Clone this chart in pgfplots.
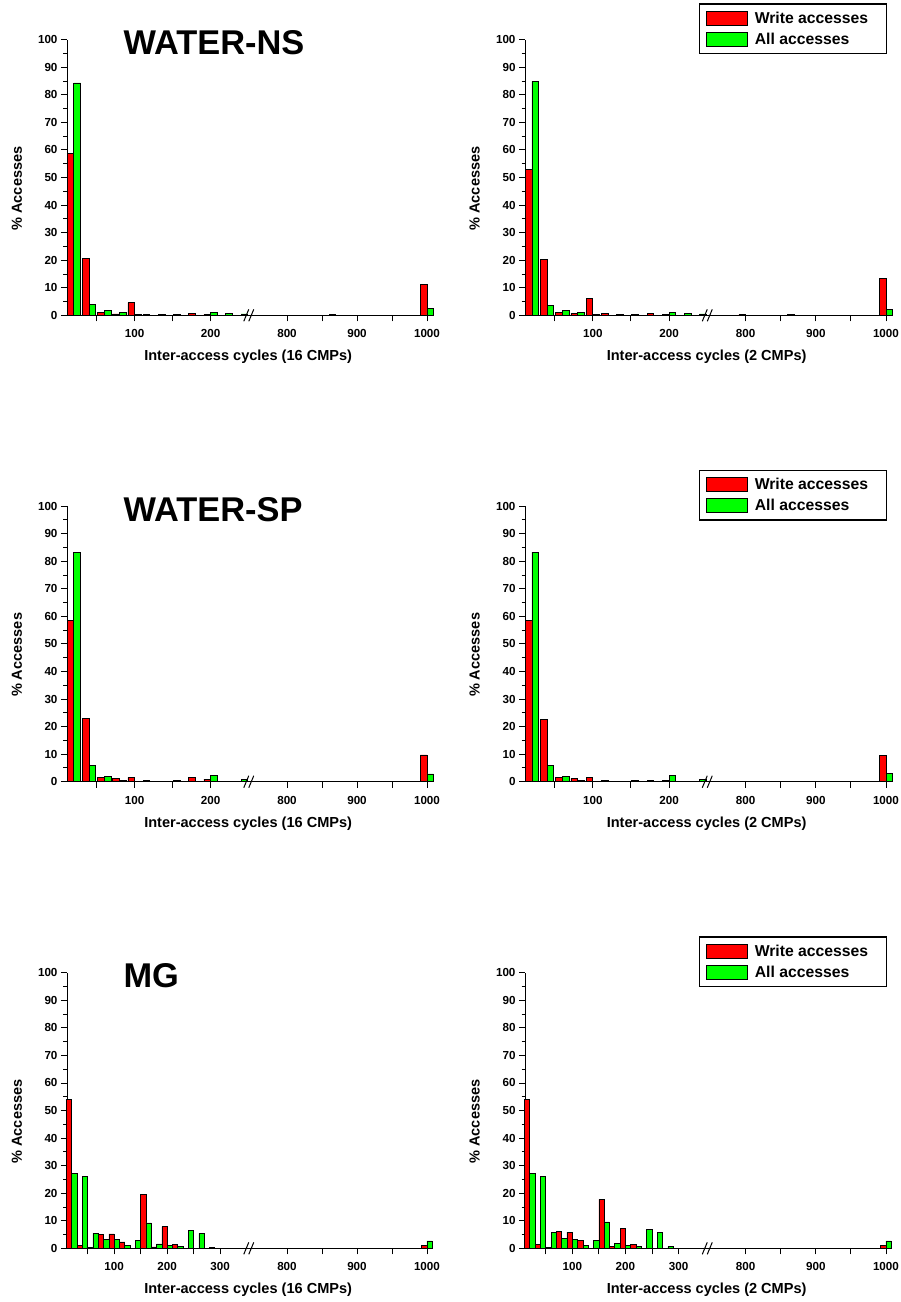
\documentclass[border=0pt]{standalone}
\usepackage{pgfplots}
\pgfplotsset{compat=1.18}
\usepackage{fontspec}
\setmainfont{Liberation Sans}
\definecolor{wred}{RGB}{255,0,0}
\definecolor{agreen}{RGB}{0,255,0}
\pgfplotsset{
  panel/.style={
    scale only axis, width=366bp, height=275.6bp,
    anchor=south west,
    axis x line=bottom, axis y line=left,
    axis line style={-, line width=1bp, black},
    ymin=0, ymax=100, ytick={0,10,...,100}, minor y tick num=1,
    tick align=outside, major tick length=6bp, minor tick length=3.5bp,
    tick style={line width=0.9bp, black},
    ybar=0pt, clip=false,
    tick label style={font=\fontsize{11.7}{13}\selectfont\bfseries},
    xticklabel style={yshift=-5bp},
    /pgf/number format/assume math mode=true,
    label style={font=\fontsize{14.6}{16}\selectfont\bfseries},
    ylabel={\% Accesses},
    ylabel style={at={(axis description cs:-0.137,0.46)}, anchor=center},
    xlabel style={at={(axis description cs:0.495,-0.152)}, anchor=center},
    legend style={at={(rel axis cs:0.986,1.132)}, anchor=north east,
      draw=black, line width=1.2bp, font=\fontsize{15.8}{17}\selectfont\bfseries,
      legend cell align=left, row sep=4bp, inner xsep=7bp, inner ysep=6bp},
  },
  trafoA/.style={
    x coord trafo/.code={\pgfmathparse{##1<500 ? ##1 : 250.5+(##1-745.7)*0.921}},
    xmin=11, xmax=1008.6, bar width=8.8,
    xtick={50,100,150,200,800,850,900,950,1000},
    xticklabels={,100,,200,800,,900,,1000},
  },
  trafoB/.style={
    x coord trafo/.code={\pgfmathparse{##1<500 ? ##1 : 354.4+(##1-745.7)*1.321}},
    xmin=11, xmax=1008.6, bar width=10,
    xtick={50,100,150,200,250,300,800,850,900,950,1000},
    xticklabels={,100,,200,,300,800,,900,,1000},
  },
  sqleg/.style={legend image code/.code={\draw[##1,draw=black,line width=0.8bp] (0bp,-7bp) rectangle (41bp,7bp); \path[draw=none,fill=none] (0bp,0bp) -- (46bp,0bp);}},
  rbar/.style={fill=wred, draw=black, line width=0.7bp, sqleg},
  gbar/.style={fill=agreen, draw=black, line width=0.7bp, sqleg},
}
\newcommand{\brk}{%
  \draw[line width=1bp] (rel axis cs:0.498,0) ++(-5.5bp,-6bp) -- ++(5bp,12bp);
  \draw[line width=1bp] (rel axis cs:0.498,0) ++(-0.5bp,-6bp) -- ++(5bp,12bp);}
\newcommand{\ttl}[1]{\node[anchor=base west, font=\fontsize{34.5}{36}\selectfont\bfseries] at (rel axis cs:0.145,0.945) {#1};}
\begin{document}
\begin{tikzpicture}
\useasboundingbox (0,0) rectangle (901bp,-1302bp);
% ---------- WATER-NS 16
\begin{axis}[panel, trafoA, at={(67bp,-315.3bp)}, xlabel={Inter-access cycles (16 CMPs)}]
\addplot[rbar] coordinates {(20,58.6) (40,20.6) (60,1.0) (80,0.5) (100,4.6) (120,0.3) (140,0.4) (160,0.3) (180,0.8) (200,0.3) (220,0.1) (240,0.1) (780,0.1) (800,0.1) (820,0.1) (840,0.1) (880,0.1) (900,0.1) (920,0.1) (940,0.1) (960,0.1) (980,0.1) (1000,11.3)};
\addplot[gbar] coordinates {(20,84.3) (40,4.0) (60,1.8) (80,1.0) (100,0.3) (120,0.1) (140,0.1) (160,0.1) (180,0.1) (200,1.0) (220,0.6) (240,0.5) (860,0.2) (1000,2.5)};
\brk
\ttl{WATER-NS}
\end{axis}
% ---------- WATER-NS 2
\begin{axis}[panel, trafoA, at={(525bp,-315.3bp)}, width=367bp, xlabel={Inter-access cycles (2 CMPs)}]
\addplot[rbar] coordinates {(20,52.9) (40,20.3) (60,1.1) (80,0.6) (100,6.2) (120,0.7) (140,0.4) (160,0.4) (180,0.7) (200,0.3) (220,0.1) (240,0.1) (800,0.3) (1000,13.4)};
\addplot[gbar] coordinates {(20,84.9) (40,3.6) (60,1.8) (80,1.1) (100,0.3) (120,0.1) (140,0.1) (160,0.1) (180,0.1) (200,1.0) (220,0.6) (240,0.5) (860,0.3) (1000,2.2)};
\legend{Write accesses\rule{9bp}{0pt}, All accesses}
\brk
\end{axis}
% ---------- WATER-SP 16
\begin{axis}[panel, trafoA, at={(67bp,-781.7bp)}, xlabel={Inter-access cycles (16 CMPs)}]
\addplot[rbar] coordinates {(20,58.6) (40,22.9) (60,1.6) (80,1.1) (100,1.6) (120,0.4) (140,0.1) (160,0.6) (180,1.6) (200,0.9) (220,0.2) (240,0.1) (1000,9.7)};
\addplot[gbar] coordinates {(20,83.3) (40,5.8) (60,1.9) (80,0.5) (100,0.2) (120,0.1) (140,0.2) (160,0.1) (180,0.1) (200,2.3) (220,0.1) (240,0.9) (1000,2.8)};
\brk
\ttl{WATER-SP}
\end{axis}
% ---------- WATER-SP 2
\begin{axis}[panel, trafoA, at={(525bp,-781.7bp)}, width=367bp, xlabel={Inter-access cycles (2 CMPs)}]
\addplot[rbar] coordinates {(20,58.4) (40,22.6) (60,1.6) (80,1.2) (100,1.6) (120,0.5) (140,0.1) (160,0.4) (180,0.6) (200,0.4) (220,0.1) (240,0.1) (1000,9.6)};
\addplot[gbar] coordinates {(20,83.3) (40,5.8) (60,1.9) (80,0.5) (100,0.2) (120,0.1) (140,0.1) (160,0.1) (180,0.1) (200,2.3) (220,0.1) (240,0.9) (1000,3.0)};
\legend{Write accesses\rule{9bp}{0pt}, All accesses}
\brk
\end{axis}
% ---------- MG 16
\begin{axis}[panel, trafoB, at={(67bp,-1248.3bp)}, xlabel={Inter-access cycles (16 CMPs)}]
\addplot[rbar] coordinates {(20,54.0) (40,1.2) (60,0.3) (80,5.0) (100,5.2) (120,2.3) (160,19.7) (180,0.5) (200,7.9) (220,1.4) (1000,1.2)};
\addplot[gbar] coordinates {(20,27.2) (40,26.0) (60,5.4) (80,3.3) (100,3.3) (120,1.1) (140,2.9) (160,9.2) (180,1.6) (200,1.2) (220,0.8) (240,6.4) (260,5.4) (280,0.4) (1000,2.7)};
\brk
\ttl{MG}
\end{axis}
% ---------- MG 2
\begin{axis}[panel, trafoB, at={(525bp,-1248.3bp)}, width=367bp, xlabel={Inter-access cycles (2 CMPs)}]
\addplot[rbar] coordinates {(20,54.0) (40,1.3) (60,0.4) (80,6.2) (100,5.9) (120,2.9) (160,17.8) (180,0.6) (200,7.3) (220,1.4) (1000,1.0)};
\addplot[gbar] coordinates {(20,27.2) (40,26.0) (60,5.8) (80,3.6) (100,3.3) (120,1.1) (140,2.9) (160,9.6) (180,1.8) (200,1.1) (220,0.7) (240,7.0) (260,5.7) (280,0.6) (1000,2.7)};
\legend{Write accesses\rule{9bp}{0pt}, All accesses}
\brk
\end{axis}
\end{tikzpicture}
\end{document}
